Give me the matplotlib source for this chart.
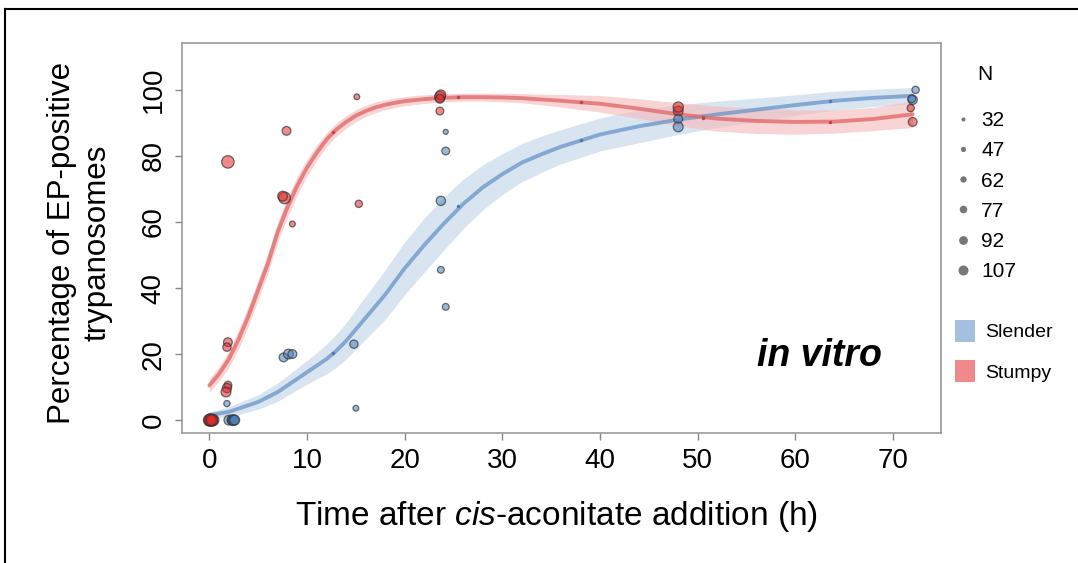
import numpy as np
import matplotlib
matplotlib.use("Agg")
import matplotlib.pyplot as plt
from matplotlib.lines import Line2D
from matplotlib.patches import Patch
from matplotlib.colors import to_rgba

plt.rcParams['font.family'] = ['Liberation Sans', 'DejaVu Sans']
plt.rcParams['mathtext.fontset'] = 'custom'
plt.rcParams['mathtext.rm'] = 'Liberation Sans'
plt.rcParams['mathtext.it'] = 'Liberation Sans:italic'

# ---------------- data ----------------
slender_t = [2.0, 2.3, 2.4, 2.5, 2.6, 1.8, 7.6, 8.1, 8.5, 14.8, 15.0, 24.2, 24.2, 23.7, 23.7, 24.2,
             48.0, 48.0, 72.3, 72.0, 71.9]
slender_v = [0, 0, 0, 0, 0, 5, 19, 20, 20, 23, 3.6, 87.3, 81.5, 66.4, 45.5, 34.3,
             91.2, 88.8, 100, 97, 97.3]
slender_n = [80, 75, 90, 85, 80, 45, 70, 80, 70, 65, 40, 32, 60, 75, 50, 50,
             70, 80, 55, 75, 60]

stumpy_t = [0.0, 0.2, 0.4, 0.1, 0.3, 0.05, 0.25,
            1.9, 1.9, 1.8, 1.9, 1.8, 1.7, 7.7, 7.5, 8.5, 7.9,
            15.1, 15.3, 23.6, 23.7, 23.6, 23.6, 48.0, 48.0, 71.8, 72.0]
stumpy_v = [0, 0, 0, 0, 0, 0, 0,
            78.2, 23.6, 22.1, 10.6, 9.7, 8.5, 67.3, 67.8, 59.4, 87.6,
            97.9, 65.5, 97.9, 98.5, 97.3, 93.6, 93.6, 94.8, 94.5, 90.3]
stumpy_n = [100, 107, 95, 90, 85, 100, 95,
            107, 70, 65, 60, 75, 80, 100, 80, 40, 70,
            40, 55, 90, 80, 70, 60, 80, 85, 55, 70]

# fitted curves
fit_t = [0, 1, 2, 3, 4, 5, 6, 7, 8, 9, 10, 11, 12, 13, 14, 15, 16, 17, 18, 19, 20,
         22, 24, 26, 28, 30, 32, 34, 36, 40, 44, 48, 52, 56, 60, 64, 68, 72]
slender_fit = [1.5, 2, 2.5, 3.5, 4.5, 5.5, 7, 8.5, 10.5, 12.5, 14.5, 16.5, 18.5, 21, 24,
               27.5, 31, 34.5, 38, 42, 46, 53, 59.5, 65.5, 70.5, 74.5, 78, 80.5, 82.8,
               86.5, 89, 91, 92.6, 94, 95.4, 96.7, 97.6, 98.2]
slender_half = [1, 1.2, 1.5, 1.8, 2, 2.2, 2.5, 2.8, 3, 3.3, 3.6, 4, 4.5, 5, 5.5, 6, 6.5,
                7, 7.5, 7.8, 8, 8.2, 8, 7.5, 6.8, 6.2, 5.8, 5.5, 5.2, 5, 5, 4.5, 4, 3.5,
                3.1, 2.9, 2.6, 2.5]
stumpy_fit = [10.5, 14, 18.5, 24.5, 31.5, 39.5, 47.5, 57, 64.5, 71, 76.5, 81, 85, 88,
              90.3, 92.2, 93.6, 94.7, 95.5, 96.1, 96.6, 97.2, 97.6, 97.8, 97.8, 97.7,
              97.5, 97.1, 96.7, 95.8, 94.3, 92.6, 91.3, 90.6, 90.3, 90.4, 91.2, 92.6]
stumpy_half = [2, 2.2, 2.5, 2.8, 3, 3, 3, 3, 3, 2.8, 2.5, 2.3, 2.1, 2, 1.9, 1.8, 1.7,
               1.6, 1.5, 1.5, 1.4, 1.3, 1.2, 1.2, 1.2, 1.3, 1.4, 1.6, 1.9, 2.5, 3, 3.5,
               3.8, 3.8, 3.7, 3.5, 3.5, 4]

knot_t = [12.7, 25.5, 38, 50.5, 63.5]
slender_knot = [20.2, 64.8, 84.7, 91.8, 96.6]
stumpy_knot = [87.2, 97.8, 96.3, 91.4, 90.4]

legend_n = [32, 47, 62, 77, 92, 107]
x_ticks = [0, 10, 20, 30, 40, 50, 60, 70]
y_ticks = [0, 20, 40, 60, 80, 100]

# ---------------- style ----------------
blue_pt = to_rgba('#4a7fc0', 0.55)
red_pt = to_rgba('#e02a2a', 0.55)
edge = to_rgba('#333333', 0.7)
blue_line = '#6f9acb'
red_line = '#e26b6b'
blue_band = '#c6d6ea'
red_band = '#f5bdbd'


def diam_pt(n):
    n = np.asarray(n, dtype=float)
    return (4 + (n - 32) / 75 * 6) * 0.72


fig = plt.figure(figsize=(10.78, 5.63), dpi=100)
ax = fig.add_axes([182 / 1078, 1 - 433 / 563, (941 - 182) / 1078, (433 - 43) / 563])

ft = np.array(fit_t)
for fit, half, band, line in [(slender_fit, slender_half, blue_band, blue_line),
                              (stumpy_fit, stumpy_half, red_band, red_line)]:
    f = np.array(fit)
    h = np.array(half)
    ax.fill_between(ft, f - h, f + h, color=band, alpha=0.65, lw=0, zorder=1)
    ax.plot(ft, f, color=line, lw=2.8, alpha=0.8, zorder=2, solid_capstyle='round',
            solid_joinstyle='round')

ax.scatter(knot_t, slender_knot, s=6, color='#4a78b0', zorder=3, lw=0)
ax.scatter(knot_t, stumpy_knot, s=6, color='#c84040', zorder=3, lw=0)

ax.scatter(stumpy_t, stumpy_v, s=diam_pt(stumpy_n) ** 2 * 1.55, facecolor=red_pt,
           edgecolor=edge, linewidth=0.9, zorder=4)
ax.scatter(slender_t, slender_v, s=diam_pt(slender_n) ** 2 * 1.55, facecolor=blue_pt,
           edgecolor=edge, linewidth=0.9, zorder=4)

ax.set_xlim(-2.8, 74.9)
ax.set_ylim(-3.9, 114.2)
ax.set_xticks(x_ticks)
ax.set_yticks(y_ticks)
ax.tick_params(axis='both', labelsize=20, length=5, width=1, color='#888888',
               labelcolor='black', pad=6)
for lab in ax.get_yticklabels():
    lab.set_rotation(90)
    lab.set_va('center')
for s in ax.spines.values():
    s.set_color('#999999')
    s.set_linewidth(1.2)

ax.text(62.5, 19.5, 'in vitro', fontsize=27, fontweight='bold', fontstyle='italic',
        ha='center', va='center')

fig.text(557 / 1078, 1 - 517 / 563, 'Time after $\\mathit{cis}$-aconitate addition (h)',
         fontsize=24, ha='center', va='center')
fig.text(80 / 1078, 1 - 243 / 563, 'Percentage of EP-positive\ntrypanosomes',
         fontsize=22.5, ha='center', va='center', rotation=90, multialignment='center',
         linespacing=1.25)

# size legend
fig.text(985 / 1078, 1 - 74 / 563, 'N', fontsize=15, ha='center', va='center')
size_handles = [Line2D([], [], marker='o', linestyle='', markersize=d,
                       markerfacecolor='#777777', markeredgewidth=0)
                for d in diam_pt(legend_n)]
fig.legend(size_handles, [str(n) for n in legend_n],
           loc='upper left', bbox_to_anchor=(955 / 1078, 1 - 111 / 563),
           frameon=False, fontsize=15, handlelength=0.8, borderaxespad=0,
           handletextpad=0.45, labelspacing=0.54, borderpad=0)

col_handles = [Patch(facecolor='#a5c0de', edgecolor='none'),
               Patch(facecolor='#f08a8a', edgecolor='none')]
fig.legend(col_handles, ['Slender', 'Stumpy'], loc='upper left',
           bbox_to_anchor=(955 / 1078, 1 - 320 / 563), frameon=False, fontsize=14,
           handlelength=1.05, handleheight=1.35, handletextpad=0.5, labelspacing=0.95,
           borderpad=0, borderaxespad=0)

# outer frame lines (top and left)
fig.add_artist(Line2D([5 / 1078, 1], [1 - 9 / 563, 1 - 9 / 563],
                      transform=fig.transFigure, color='black', lw=1.5))
fig.add_artist(Line2D([5 / 1078, 5 / 1078], [1 - 9 / 563, 0],
                      transform=fig.transFigure, color='black', lw=1.5))

fig.savefig('out.png', dpi=100)
